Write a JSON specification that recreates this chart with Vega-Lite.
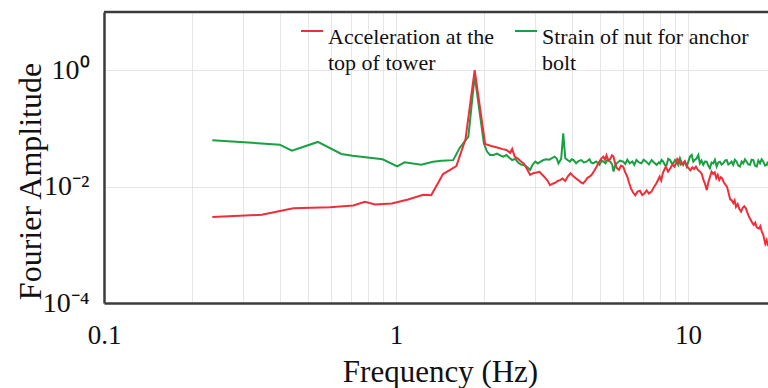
{
  "$schema": "https://vega.github.io/schema/vega-lite/v6.json",
  "width": 664,
  "height": 291,
  "autosize": "none",
  "padding": {"left": 104, "top": 12, "right": 0, "bottom": 85},
  "background": "white",
  "config": {
    "view": {"stroke": null},
    "font": "Liberation Serif",
    "text": {"font": "Liberation Serif"},
    "legend": {"labelFont": "Liberation Serif, Times New Roman, serif", "labelFontSize": 22, "labelColor": "#111111"}
  },
  "datasets": {
    "strain": [
      {"f": 0.235, "a": 0.0626}, {"f": 0.40, "a": 0.0526}, {"f": 0.44, "a": 0.0415}, {"f": 0.54, "a": 0.0585},
      {"f": 0.65, "a": 0.0363}, {"f": 0.71, "a": 0.034}, {"f": 0.90, "a": 0.0294}, {"f": 1.01, "a": 0.0223},
      {"f": 1.07, "a": 0.0261}, {"f": 1.22, "a": 0.0238}, {"f": 1.34, "a": 0.0268}, {"f": 1.43, "a": 0.0279},
      {"f": 1.57, "a": 0.0285}, {"f": 1.65, "a": 0.0456}, {"f": 1.77, "a": 0.072}, {"f": 1.86, "a": 0.80},
      {"f": 2.00, "a": 0.0556}, {"f": 2.05, "a": 0.040}, {"f": 2.10, "a": 0.0349}, {"f": 2.16, "a": 0.0349},
      {"f": 2.22, "a": 0.037}, {"f": 2.28, "a": 0.034}, {"f": 2.33, "a": 0.0327}, {"f": 2.39, "a": 0.035},
      {"f": 2.45, "a": 0.031}, {"f": 2.50, "a": 0.0286}, {"f": 2.56, "a": 0.030}, {"f": 2.62, "a": 0.026},
      {"f": 2.68, "a": 0.024}, {"f": 2.74, "a": 0.0235}, {"f": 2.80, "a": 0.022}, {"f": 2.88, "a": 0.0194},
      {"f": 2.94, "a": 0.024}, {"f": 3.00, "a": 0.0268}, {"f": 3.06, "a": 0.025}, {"f": 3.13, "a": 0.0268},
      {"f": 3.20, "a": 0.0286}, {"f": 3.27, "a": 0.0295}, {"f": 3.35, "a": 0.029}, {"f": 3.42, "a": 0.0307},
      {"f": 3.49, "a": 0.0327}, {"f": 3.55, "a": 0.0307}, {"f": 3.60, "a": 0.025}, {"f": 3.68, "a": 0.030},
      {"f": 3.74, "a": 0.0826}, {"f": 3.80, "a": 0.0307}, {"f": 3.87, "a": 0.0286}, {"f": 3.94, "a": 0.0268},
      {"f": 4.00, "a": 0.0295}, {"f": 4.06, "a": 0.0286}, {"f": 4.14, "a": 0.0251}, {"f": 4.22, "a": 0.0275},
      {"f": 4.31, "a": 0.0286}, {"f": 4.40, "a": 0.026}, {"f": 4.49, "a": 0.0268}, {"f": 4.60, "a": 0.0295},
      {"f": 4.66, "a": 0.026}, {"f": 4.73, "a": 0.0251}, {"f": 4.85, "a": 0.027}, {"f": 4.98, "a": 0.0236},
      {"f": 5.06, "a": 0.028}, {"f": 5.13, "a": 0.0268}, {"f": 5.22, "a": 0.0251}, {"f": 5.30, "a": 0.029},
      {"f": 5.42, "a": 0.0268}, {"f": 5.50, "a": 0.024}, {"f": 5.56, "a": 0.0181}, {"f": 5.63, "a": 0.023},
      {"f": 5.70, "a": 0.0251}, {"f": 5.85, "a": 0.028}, {"f": 6.00, "a": 0.0268}, {"f": 6.10, "a": 0.0245},
      {"f": 6.20, "a": 0.029}, {"f": 6.32, "a": 0.0251}, {"f": 6.45, "a": 0.027}, {"f": 6.55, "a": 0.0236},
      {"f": 6.66, "a": 0.0286}, {"f": 6.80, "a": 0.026}, {"f": 6.93, "a": 0.0251}, {"f": 7.05, "a": 0.029},
      {"f": 7.20, "a": 0.0268}, {"f": 7.35, "a": 0.024}, {"f": 7.51, "a": 0.0286}, {"f": 7.65, "a": 0.026},
      {"f": 7.81, "a": 0.0236}, {"f": 7.95, "a": 0.026}, {"f": 8.02, "a": 0.0251}, {"f": 8.12, "a": 0.0286},
      {"f": 8.23, "a": 0.0268}, {"f": 8.34, "a": 0.0236}, {"f": 8.45, "a": 0.0236}, {"f": 8.56, "a": 0.030},
      {"f": 8.68, "a": 0.0286}, {"f": 8.80, "a": 0.0251}, {"f": 8.91, "a": 0.0251}, {"f": 9.03, "a": 0.0286},
      {"f": 9.15, "a": 0.0268}, {"f": 9.27, "a": 0.0236}, {"f": 9.39, "a": 0.0307}, {"f": 9.51, "a": 0.026},
      {"f": 9.63, "a": 0.0236}, {"f": 9.76, "a": 0.027}, {"f": 9.90, "a": 0.0221}, {"f": 10.03, "a": 0.0268},
      {"f": 10.16, "a": 0.0327}, {"f": 10.30, "a": 0.0349}, {"f": 10.43, "a": 0.0268}, {"f": 10.57, "a": 0.029},
      {"f": 10.71, "a": 0.0307}, {"f": 10.85, "a": 0.0349}, {"f": 10.99, "a": 0.0251}, {"f": 11.13, "a": 0.028},
      {"f": 11.28, "a": 0.0236}, {"f": 11.43, "a": 0.027}, {"f": 11.59, "a": 0.0268}, {"f": 11.74, "a": 0.023},
      {"f": 11.89, "a": 0.0206}, {"f": 12.05, "a": 0.026}, {"f": 12.21, "a": 0.0251}, {"f": 12.37, "a": 0.029},
      {"f": 12.54, "a": 0.0221}, {"f": 12.70, "a": 0.026}, {"f": 12.87, "a": 0.0268}, {"f": 13.04, "a": 0.024},
      {"f": 13.21, "a": 0.0251}, {"f": 13.39, "a": 0.028}, {"f": 13.57, "a": 0.0286}, {"f": 13.75, "a": 0.024},
      {"f": 13.93, "a": 0.0251}, {"f": 14.11, "a": 0.027}, {"f": 14.29, "a": 0.0236}, {"f": 14.48, "a": 0.029},
      {"f": 14.68, "a": 0.0268}, {"f": 14.87, "a": 0.023}, {"f": 15.07, "a": 0.0221}, {"f": 15.27, "a": 0.027},
      {"f": 15.47, "a": 0.0251}, {"f": 15.68, "a": 0.0295}, {"f": 15.89, "a": 0.0268}, {"f": 16.10, "a": 0.024},
      {"f": 16.31, "a": 0.0236}, {"f": 16.52, "a": 0.029}, {"f": 16.74, "a": 0.0286}, {"f": 16.97, "a": 0.023},
      {"f": 17.20, "a": 0.0221}, {"f": 17.42, "a": 0.028}, {"f": 17.65, "a": 0.0251}, {"f": 17.88, "a": 0.0295},
      {"f": 18.12, "a": 0.0268}, {"f": 18.36, "a": 0.023}, {"f": 18.61, "a": 0.0236}, {"f": 18.80, "a": 0.027}
    ],
    "accel": [
      {"f": 0.235, "a": 0.0030}, {"f": 0.347, "a": 0.00327}, {"f": 0.445, "a": 0.00426}, {"f": 0.594, "a": 0.00443},
      {"f": 0.714, "a": 0.00473}, {"f": 0.783, "a": 0.00547}, {"f": 0.847, "a": 0.00493}, {"f": 0.967, "a": 0.00513},
      {"f": 1.10, "a": 0.0060}, {"f": 1.24, "a": 0.00722}, {"f": 1.32, "a": 0.00713}, {"f": 1.45, "a": 0.0164},
      {"f": 1.61, "a": 0.0225}, {"f": 1.73, "a": 0.065}, {"f": 1.86, "a": 1.0}, {"f": 2.02, "a": 0.054},
      {"f": 2.12, "a": 0.050}, {"f": 2.22, "a": 0.047}, {"f": 2.32, "a": 0.044}, {"f": 2.39, "a": 0.0426},
      {"f": 2.46, "a": 0.038}, {"f": 2.50, "a": 0.0445}, {"f": 2.55, "a": 0.0327}, {"f": 2.62, "a": 0.030},
      {"f": 2.68, "a": 0.027}, {"f": 2.74, "a": 0.025}, {"f": 2.81, "a": 0.020}, {"f": 2.88, "a": 0.0159},
      {"f": 2.95, "a": 0.017}, {"f": 3.03, "a": 0.0175}, {"f": 3.10, "a": 0.018}, {"f": 3.17, "a": 0.016},
      {"f": 3.25, "a": 0.014}, {"f": 3.31, "a": 0.0125}, {"f": 3.37, "a": 0.0106}, {"f": 3.44, "a": 0.0112},
      {"f": 3.50, "a": 0.0115}, {"f": 3.58, "a": 0.0125}, {"f": 3.65, "a": 0.0129}, {"f": 3.72, "a": 0.0138},
      {"f": 3.80, "a": 0.0125}, {"f": 3.88, "a": 0.0150}, {"f": 3.96, "a": 0.0169}, {"f": 4.05, "a": 0.0150},
      {"f": 4.14, "a": 0.0138}, {"f": 4.22, "a": 0.0128}, {"f": 4.30, "a": 0.0118}, {"f": 4.37, "a": 0.0113},
      {"f": 4.45, "a": 0.0125}, {"f": 4.52, "a": 0.0140}, {"f": 4.60, "a": 0.0148}, {"f": 4.68, "a": 0.0160},
      {"f": 4.77, "a": 0.0185}, {"f": 4.87, "a": 0.0221}, {"f": 4.95, "a": 0.026}, {"f": 5.04, "a": 0.030},
      {"f": 5.13, "a": 0.0327}, {"f": 5.20, "a": 0.029}, {"f": 5.26, "a": 0.0345}, {"f": 5.34, "a": 0.028},
      {"f": 5.42, "a": 0.030}, {"f": 5.49, "a": 0.0345}, {"f": 5.56, "a": 0.0327}, {"f": 5.63, "a": 0.025},
      {"f": 5.70, "a": 0.0210}, {"f": 5.80, "a": 0.0194}, {"f": 5.90, "a": 0.0230}, {"f": 6.00, "a": 0.022},
      {"f": 6.10, "a": 0.0175}, {"f": 6.20, "a": 0.0148}, {"f": 6.29, "a": 0.0115}, {"f": 6.38, "a": 0.0093},
      {"f": 6.48, "a": 0.0080}, {"f": 6.60, "a": 0.0071}, {"f": 6.72, "a": 0.0082}, {"f": 6.85, "a": 0.0085},
      {"f": 6.97, "a": 0.0072}, {"f": 7.10, "a": 0.0077}, {"f": 7.22, "a": 0.0086}, {"f": 7.35, "a": 0.0076},
      {"f": 7.50, "a": 0.0082}, {"f": 7.62, "a": 0.0095}, {"f": 7.80, "a": 0.0114}, {"f": 7.90, "a": 0.0130},
      {"f": 8.00, "a": 0.0148}, {"f": 8.10, "a": 0.0128}, {"f": 8.20, "a": 0.0170}, {"f": 8.30, "a": 0.0195},
      {"f": 8.40, "a": 0.0221}, {"f": 8.55, "a": 0.0180}, {"f": 8.70, "a": 0.0206}, {"f": 8.85, "a": 0.0240},
      {"f": 9.00, "a": 0.0220}, {"f": 9.10, "a": 0.0250}, {"f": 9.20, "a": 0.0300}, {"f": 9.30, "a": 0.0286},
      {"f": 9.45, "a": 0.0240}, {"f": 9.60, "a": 0.0251}, {"f": 9.75, "a": 0.0270}, {"f": 9.90, "a": 0.0230},
      {"f": 10.05, "a": 0.0206}, {"f": 10.20, "a": 0.0190}, {"f": 10.35, "a": 0.0215}, {"f": 10.50, "a": 0.0200},
      {"f": 10.65, "a": 0.0221}, {"f": 10.80, "a": 0.0195}, {"f": 11.00, "a": 0.0180}, {"f": 11.15, "a": 0.0165},
      {"f": 11.30, "a": 0.0130}, {"f": 11.45, "a": 0.0110}, {"f": 11.60, "a": 0.0087}, {"f": 11.75, "a": 0.0120},
      {"f": 11.90, "a": 0.0148}, {"f": 12.05, "a": 0.0180}, {"f": 12.20, "a": 0.0165}, {"f": 12.35, "a": 0.0175},
      {"f": 12.50, "a": 0.0140}, {"f": 12.65, "a": 0.0159}, {"f": 12.80, "a": 0.0130}, {"f": 12.95, "a": 0.0145},
      {"f": 13.10, "a": 0.0138}, {"f": 13.25, "a": 0.0120}, {"f": 13.40, "a": 0.0110}, {"f": 13.60, "a": 0.0100},
      {"f": 13.80, "a": 0.0075}, {"f": 13.95, "a": 0.0060}, {"f": 14.10, "a": 0.0059}, {"f": 14.30, "a": 0.0052},
      {"f": 14.45, "a": 0.0058}, {"f": 14.60, "a": 0.0045}, {"f": 14.80, "a": 0.0050}, {"f": 15.00, "a": 0.0041},
      {"f": 15.20, "a": 0.0037}, {"f": 15.40, "a": 0.0043}, {"f": 15.60, "a": 0.0046}, {"f": 15.80, "a": 0.0042},
      {"f": 16.00, "a": 0.0035}, {"f": 16.20, "a": 0.0030}, {"f": 16.40, "a": 0.0027}, {"f": 16.60, "a": 0.0024},
      {"f": 16.80, "a": 0.0022}, {"f": 17.00, "a": 0.0024}, {"f": 17.20, "a": 0.0020}, {"f": 17.50, "a": 0.0019},
      {"f": 17.70, "a": 0.0021}, {"f": 17.90, "a": 0.00168}, {"f": 18.10, "a": 0.0015}, {"f": 18.40, "a": 0.00104},
      {"f": 18.60, "a": 0.0012}, {"f": 18.80, "a": 0.00095}
    ]
  },
  "layer": [
    {
      "data": {"name": "strain"},
      "mark": {"type": "line", "strokeWidth": 2, "clip": true},
      "encoding": {
        "x": {
          "field": "f", "type": "quantitative",
          "scale": {"type": "log", "domain": [0.1, 18.8], "nice": false},
          "axis": {
            "values": [0.1, 0.2, 0.3, 0.4, 0.5, 0.6, 0.7, 0.8, 0.9, 1, 2, 3, 4, 5, 6, 7, 8, 9, 10],
            "labelExpr": "datum.value === 0.1 ? '0.1' : datum.value === 1 ? '1' : datum.value === 10 ? '10' : ''",
            "grid": true, "gridColor": "#e6e6e6", "gridWidth": 1,
            "domainColor": "#3c3c3c", "domainWidth": 2.5,
            "ticks": false, "tickSize": 0,
            "labelFont": "Liberation Serif", "labelFontSize": 27, "labelColor": "#111111",
            "labelPadding": 19, "labelFlush": false, "labelOverlap": false,
            "title": "Frequency (Hz)",
            "titleFont": "Liberation Serif", "titleFontSize": 31, "titleFontWeight": "normal", "titleColor": "#111111",
            "titleX": 336, "titleY": 69, "titleBaseline": "middle"
          }
        },
        "y": {
          "field": "a", "type": "quantitative",
          "scale": {"type": "log", "domain": [0.0001, 10], "nice": false},
          "axis": {
            "values": [0.0001, 0.01, 1, 10],
            "labelExpr": "datum.value === 1 ? '10⁰' : datum.value === 0.01 ? '10⁻²' : datum.value === 0.0001 ? '10⁻⁴' : ''",
            "grid": true, "gridColor": "#e6e6e6", "gridWidth": 1,
            "domainColor": "#3c3c3c", "domainWidth": 2.5,
            "ticks": false, "tickSize": 0,
            "labelFont": "Liberation Serif", "labelFontSize": 28, "labelColor": "#111111",
            "labelPadding": 15, "labelFlush": false, "labelOverlap": false,
            "title": "Fourier Amplitude",
            "titleFont": "Liberation Serif", "titleFontSize": 32, "titleFontWeight": "normal", "titleColor": "#111111",
            "titleX": -74, "titleY": 169, "titleBaseline": "middle", "titleAngle": -90
          }
        },
        "color": {
          "datum": "Strain of nut for anchor bolt", "type": "nominal",
          "scale": {"domain": ["Acceleration at the top of tower", "Strain of nut for anchor bolt"], "range": ["#ee2f3a", "#18a043"]},
          "legend": {
            "orient": "none", "legendX": 196, "legendY": 7, "direction": "horizontal", "title": null,
            "symbolType": "stroke", "symbolSize": 484, "symbolStrokeWidth": 2,
            "labelFont": "Liberation Serif, Times New Roman, serif", "labelFontSize": 22, "labelColor": "#111111", "labelLimit": 400,
            "labelOffset": 4, "columnPadding": 16, "labelBaseline": "top",
            "labelExpr": "datum.label === 'Acceleration at the top of tower' ? ['Acceleration at the', 'top of tower'] : ['Strain of nut for anchor', 'bolt']",
            "encode": {
              "labels": {
                "update": {
                  "font": {"value": "Liberation Serif, Times New Roman, serif"},
                  "fontSize": {"value": 22},
                  "lineHeight": {"value": 26},
                  "dy": {"value": -4}
                }
              }
            }
          }
        }
      }
    },
    {
      "data": {"name": "accel"},
      "mark": {"type": "line", "strokeWidth": 2, "clip": true},
      "encoding": {
        "x": {"field": "f", "type": "quantitative"},
        "y": {"field": "a", "type": "quantitative"},
        "color": {"datum": "Acceleration at the top of tower", "type": "nominal"}
      }
    },
    {
      "data": {"values": [{"top": 10}]},
      "mark": {"type": "rule", "color": "#3c3c3c", "strokeWidth": 2.5},
      "encoding": {
        "y": {"field": "top", "type": "quantitative"}
      }
    }
  ]
}
